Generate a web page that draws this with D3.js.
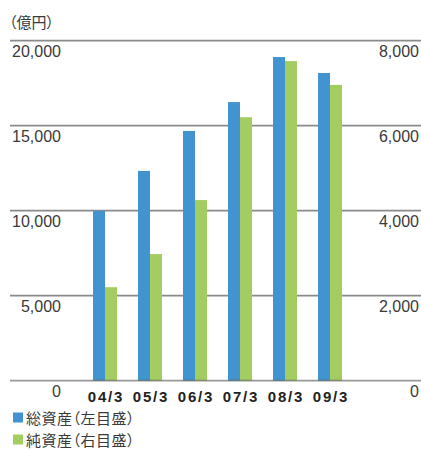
<!DOCTYPE html>
<html><head><meta charset="utf-8">
<script src="https://cdn.jsdelivr.net/npm/d3@7/dist/d3.min.js"></script>
<style>
body{margin:0;background:#fff;}
svg{display:block;}
.cjk{font-family:"Noto Sans CJK JP","Noto Sans CJK SC",sans-serif;font-feature-settings:"palt";}
</style></head>
<body>
<script>
const categories = ["04/3","05/3","06/3","07/3","08/3","09/3"];
const totalAssets = [9990, 12340, 14690, 16390, 19040, 18100];   // left axis, 億円
const netAssets   = [2200, 2980, 4250, 6200, 7520, 6960];         // right axis, 億円
const leftTicks  = [0, 5000, 10000, 15000, 20000];
const rightTicks = [0, 2000, 4000, 6000, 8000];
const seriesNames = ["総資産（左目盛）", "純資産（右目盛）"];
const colors = ["#4294d0", "#a3cd60"];

const W = 421, H = 450;
const svg = d3.select("body").append("svg").attr("width", W).attr("height", H);

const x = d3.scaleBand().domain(categories).range([82.5, 352.5]).paddingInner(0.4667).paddingOuter(0.2333);
const xs = d3.scaleBand().domain([0,1]).range([0, x.bandwidth()]);
const yL = d3.scaleLinear().domain([0, 20000]).range([380.7, 40.7]);
const yR = d3.scaleLinear().domain([0, 8000]).range([380.7, 40.7]);
const fmt = d3.format(",");

// gridlines
svg.append("g").selectAll("line").data(leftTicks.filter(d => d > 0)).join("line")
  .attr("x1", 10).attr("x2", W).attr("y1", d => yL(d)).attr("y2", d => yL(d))
  .attr("stroke", "#8a8a8a").attr("stroke-width", 1.7);

// bars
const g = svg.append("g");
g.selectAll("rect.t").data(categories).join("rect").attr("class","t")
  .attr("x", d => x(d) + xs(0)).attr("width", xs.bandwidth())
  .attr("y", (d,i) => yL(totalAssets[i])).attr("height", (d,i) => yL(0) - yL(totalAssets[i]))
  .attr("fill", colors[0]);
g.selectAll("rect.n").data(categories).join("rect").attr("class","n")
  .attr("x", d => x(d) + xs(1)).attr("width", xs.bandwidth())
  .attr("y", (d,i) => yR(netAssets[i])).attr("height", (d,i) => yR(0) - yR(netAssets[i]))
  .attr("fill", colors[1]);

// baseline on top
svg.append("line").attr("x1", 10).attr("x2", W).attr("y1", yL(0)).attr("y2", yL(0))
  .attr("stroke", "#555").attr("stroke-opacity", 0.6).attr("stroke-width", 1.7);

// left tick labels
svg.append("g").selectAll("text").data(leftTicks).join("text")
  .attr("x", 61).attr("y", d => yL(d) + 16.3)
  .attr("text-anchor", "end").attr("font-family", "'Liberation Sans', Arial, sans-serif")
  .attr("font-size", 16).attr("fill", "#3a3a3a").text(d => fmt(d));

// right tick labels
svg.append("g").selectAll("text").data(rightTicks).join("text")
  .attr("x", 419).attr("y", d => yR(d) + 16.3)
  .attr("text-anchor", "end").attr("font-family", "'Liberation Sans', Arial, sans-serif")
  .attr("font-size", 16).attr("fill", "#3a3a3a").text(d => fmt(d));

// x labels
svg.append("g").selectAll("text").data(categories).join("text")
  .attr("x", d => x(d) + x.bandwidth()/2 + 1).attr("y", 402)
  .attr("text-anchor", "middle").attr("font-family", "'Liberation Sans', Arial, sans-serif")
  .attr("font-size", 15).attr("font-weight", "bold").attr("letter-spacing", 1.8)
  .attr("fill", "#222").text(d => d);

// unit label
svg.append("text").attr("class","cjk").attr("x", 9).attr("y", 28)
  .attr("font-size", 15).attr("fill", "#3a3a3a").text("（億円）");

// legend
const lg = svg.append("g").selectAll("g").data(seriesNames).join("g")
  .attr("transform", (d,i) => `translate(0,${i*22})`);
lg.append("rect").attr("x", 13).attr("y", 412.5).attr("width", 10).attr("height", 10)
  .attr("fill", (d,i) => colors[i]);
lg.append("text").attr("class","cjk").attr("x", 26).attr("y", 423.5)
  .attr("font-size", 15).attr("letter-spacing", 0.5).attr("fill", "#3a3a3a").text(d => d);
</script>
</body></html>
